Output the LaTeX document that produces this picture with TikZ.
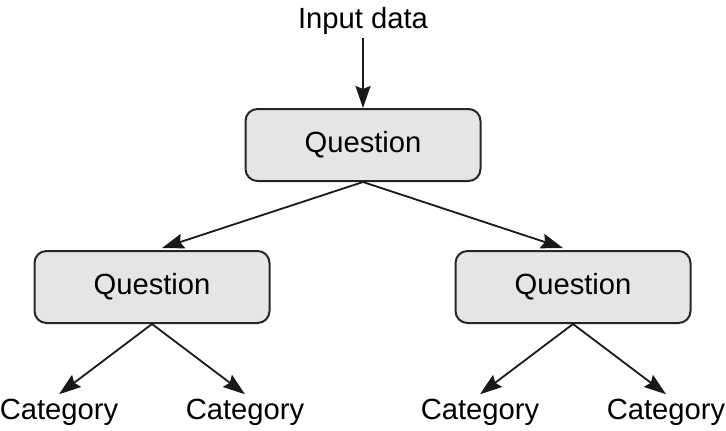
\documentclass[tikz,border=0pt]{standalone}
\usepackage{fontspec}
\setmainfont{Liberation Sans}
\usetikzlibrary{arrows.meta, positioning}

\begin{document}
\begin{tikzpicture}[x=0.5pt,y=-0.5pt,
    qbox/.style={rectangle,draw=black!85,fill=black!10,minimum width=117.5pt,minimum height=36pt,rounded corners=6pt,line width=1pt,font=\fontsize{14.6}{17}\selectfont},
    leaf/.style={inner sep=2pt,anchor=base,font=\fontsize{14.6}{17}\selectfont},
    arr/.style={-{Stealth[length=11pt,width=7.5pt,inset=1.5pt]},line width=0.9pt,black!90}]
    \useasboundingbox (0,0) rectangle (726,430);

    % Ingresso
    \node[leaf] (input) at (363,28) {Input data};
    \node[qbox] (root) at (363,145) {Question};

    % Domande
    \node[qbox] (qleft) at (152,287) {Question};
    \node[qbox] (qright) at (573,287) {Question};

    % Categorie
    \node[leaf] (catA) at (59,419) {Category};
    \node[leaf] (catB) at (245,419) {Category};
    \node[leaf] (catC) at (480,419) {Category};
    \node[leaf] (catD) at (666,419) {Category};

    % Connessioni
    \draw[arr] (input) -- (root);
    \draw[arr] (root.south) -- ([xshift=5pt,yshift=1pt]qleft.north);
    \draw[arr] (root.south) -- ([xshift=-5pt,yshift=1pt]qright.north);
    \draw[arr] (qleft.south) -- (catA.north);
    \draw[arr] (qleft.south) -- (catB.north);
    \draw[arr] (qright.south) -- (catC.north);
    \draw[arr] (qright.south) -- (catD.north);
\end{tikzpicture}
\end{document}
